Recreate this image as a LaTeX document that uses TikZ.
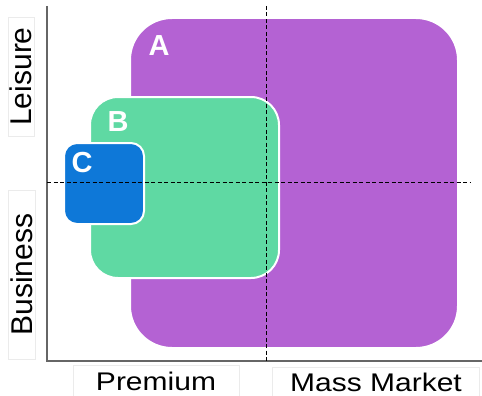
\documentclass[tikz,border=0pt]{standalone}
\usepackage{fontspec}
\setmainfont{Liberation Sans}
\usetikzlibrary{positioning}
\definecolor{zoneA}{HTML}{B462D3}
\definecolor{zoneB}{HTML}{5FD9A3}
\definecolor{zoneC}{HTML}{0E78D8}
\tikzstyle{zone} = [draw=white, line width=2pt, inner sep=0pt]
\tikzstyle{tag} = [text=white, font=\fontsize{29}{29}\selectfont\bfseries]
\tikzstyle{axis} = [black!60, line width=1.5pt]
\tikzstyle{split} = [black, line width=0.9pt, dash pattern=on 4pt off 2.5pt]

\begin{document}
\begin{tikzpicture}[
            x=1pt, y=-1pt,
            axislabel/.style={draw=black!8, line width=0.6pt, inner sep=0pt,
                font=\fontsize{30}{30}\selectfont}
        ]
            \useasboundingbox (0,0) rectangle (482,396);
            % zones
            \node[zone, fill=zoneA, minimum width=328pt, minimum height=330pt, rounded corners=42pt] (A) at (294,183) {};
            \node[zone, fill=zoneB, minimum width=189pt, minimum height=181pt, rounded corners=28pt] (B) at (184.5,187.5) {};
            \node[zone, fill=zoneC, minimum width=80pt, minimum height=81pt, rounded corners=13pt] (C) at (104,183.5) {};
            \node[tag] (tagA) at ([shift={(30,29)}]A.north west) {A};
            \node[tag] (tagB) at ([shift={(29,26)}]B.north west) {B};
            \node[tag] (tagC) at ([shift={(19,21)}]C.north west) {C};
            % axes
            \coordinate (origin) at (47,361);
            \coordinate (ytop) at (47,6);
            \coordinate (xend) at (482,361);
            \draw[axis] (ytop) -- (origin) -- (xend);
            % quadrant splits
            \coordinate (vtop) at (266,6);
            \coordinate (vbot) at (266,361);
            \coordinate (hleft) at (47,182);
            \coordinate (hright) at (470,182);
            \draw[split] (vtop) -- (vbot);
            \draw[split] (hleft) -- (hright);
            % labels
            \node[axislabel, rotate=90, minimum width=119pt, minimum height=26pt] (leisure) at (21,76.5) {Leisure};
            \node[axislabel, rotate=90, minimum width=169pt, minimum height=27pt] (business) at (21.5,274.5) {Business};
            \node[axislabel, minimum width=166pt, minimum height=31pt] (premium) at (156,381) {\scalebox{1}[0.85]{Premium}};
            \node[axislabel, minimum width=207pt, minimum height=30pt] (mass) at (376,382) {\scalebox{1}[0.85]{Mass Market}};
        \end{tikzpicture}
\end{document}
